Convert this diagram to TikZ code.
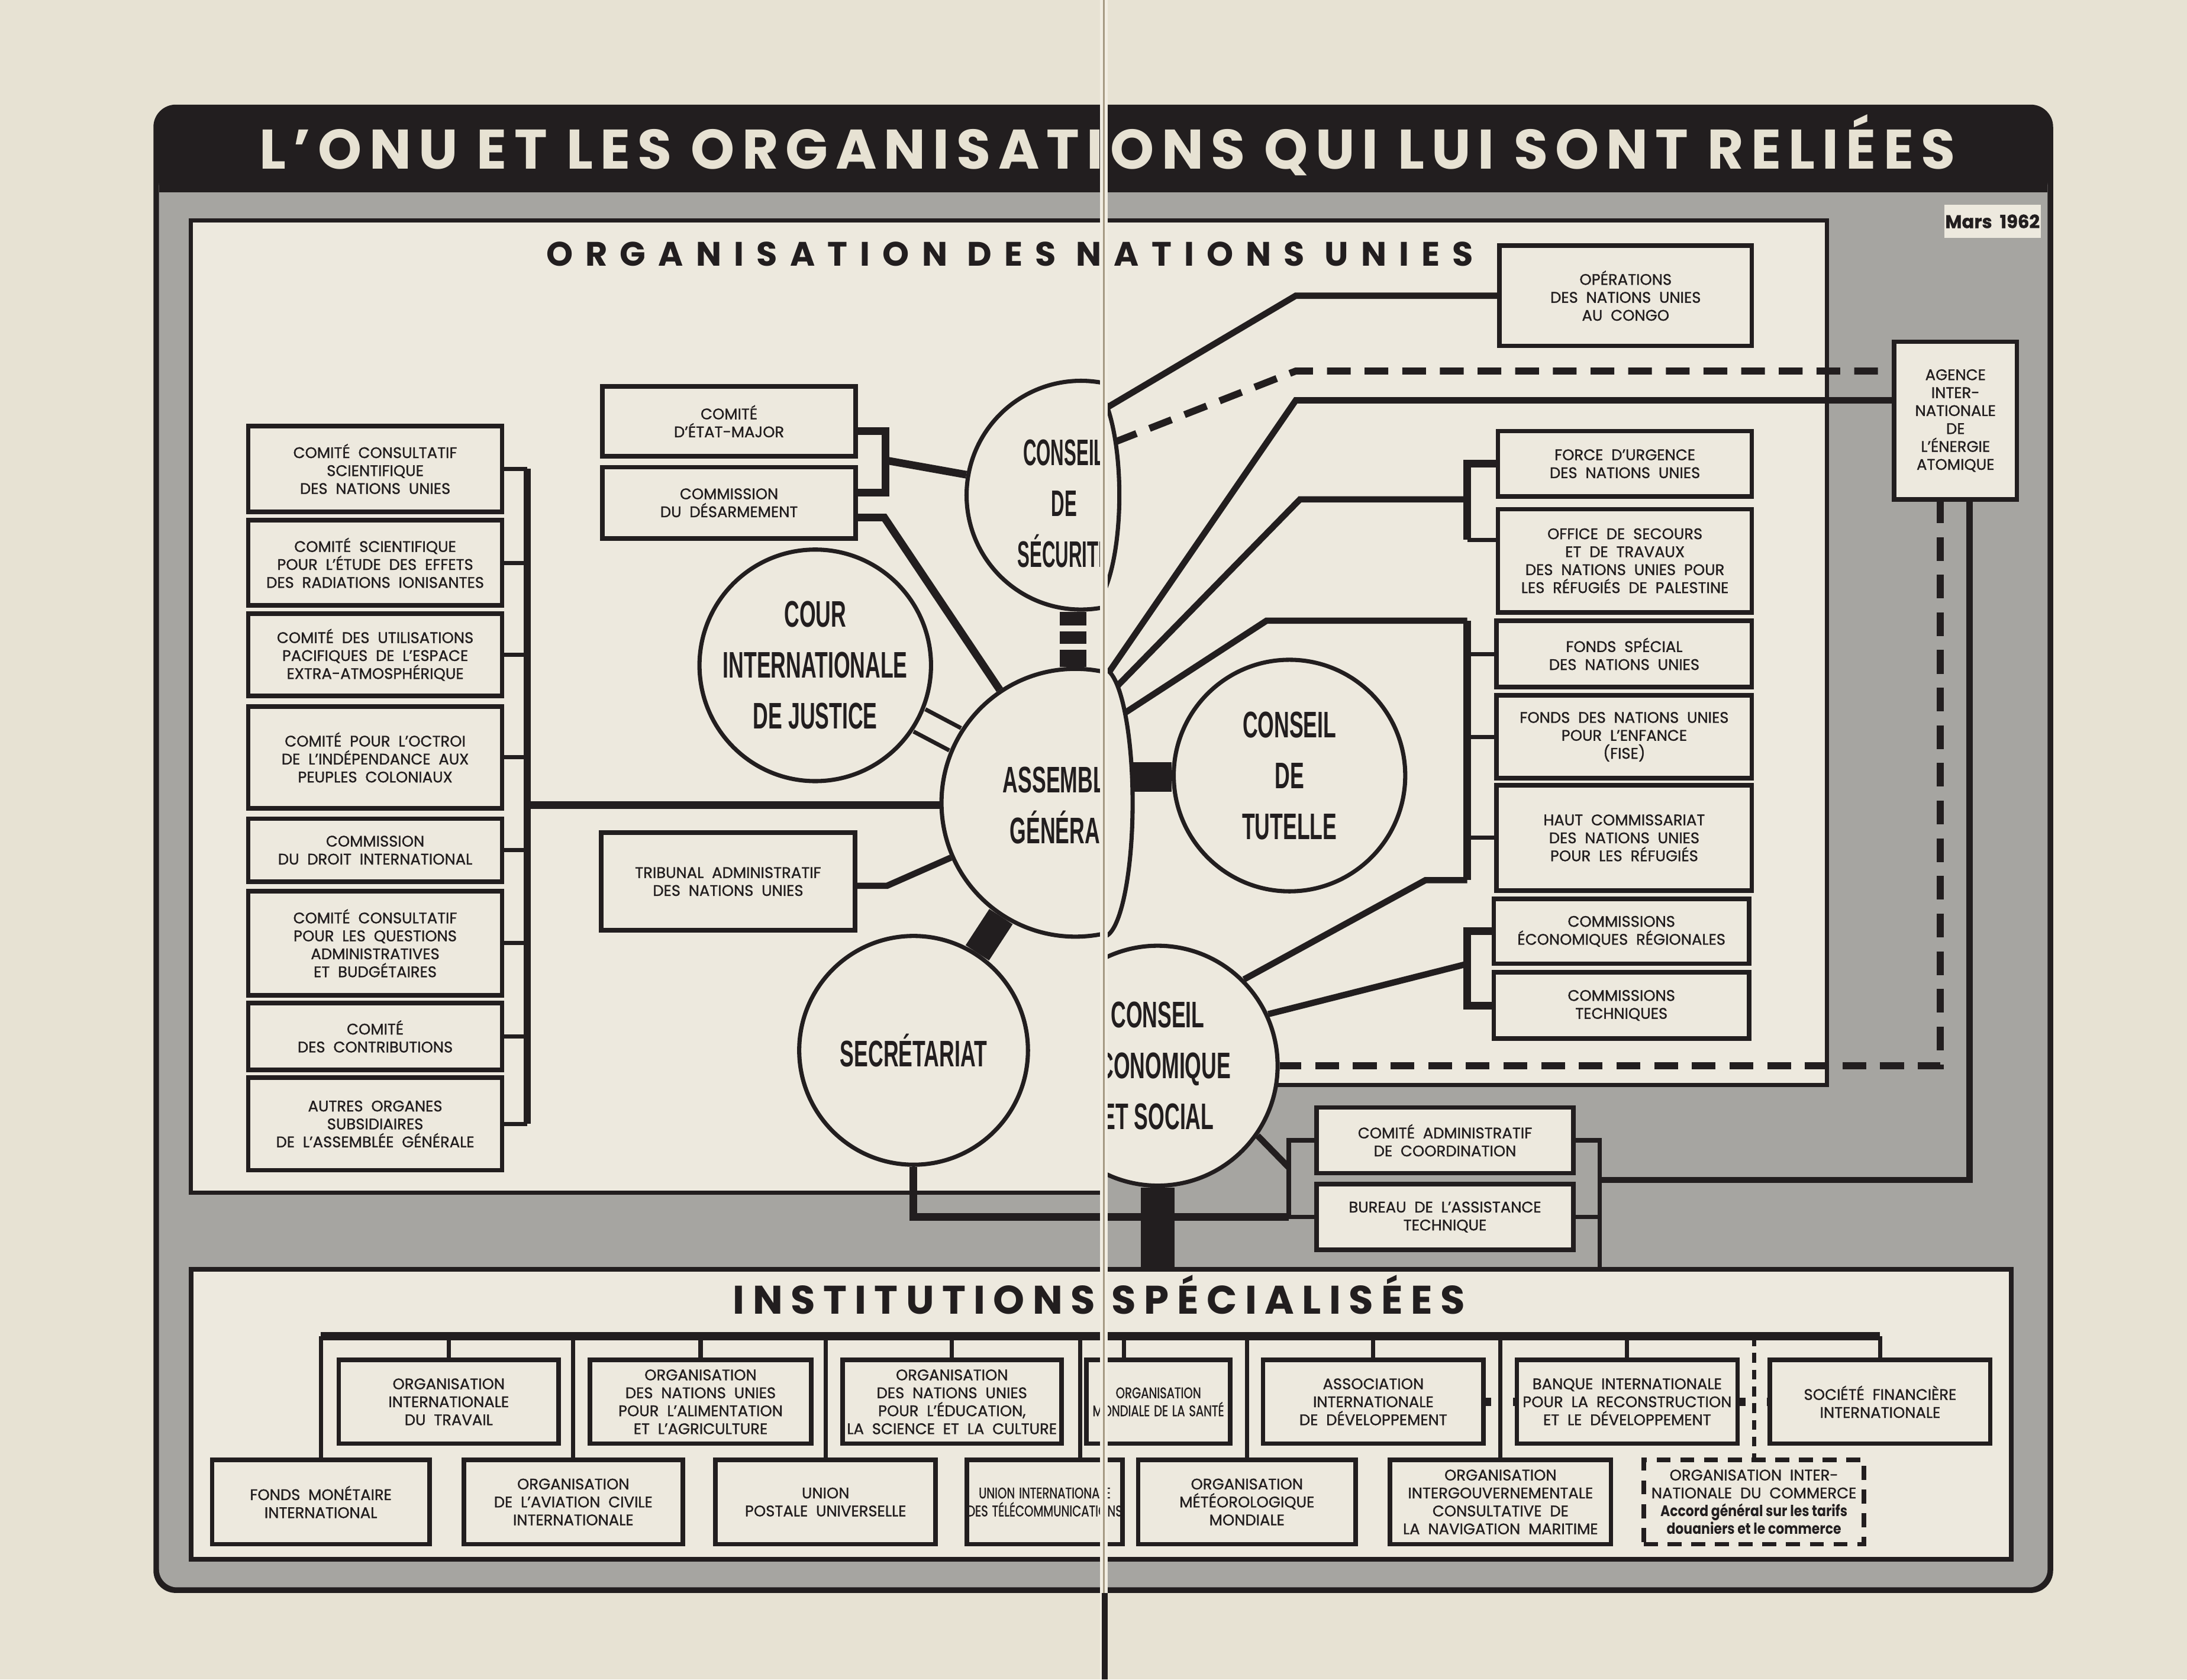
\documentclass[tikz,border=0pt]{standalone}
\usepackage{fontspec}
\setmainfont{Poppins}[WordSpace=2.0,FakeBold=1.2]
\newfontfamily\circfont{Liberation Sans}[FakeStretch=0.57]
\newfontfamily\circnarrow{Liberation Sans}[FakeStretch=0.5]
\newfontfamily\headfont{Poppins}[LetterSpace=37]
\newfontfamily\instfont{Poppins}[LetterSpace=20]
\newfontfamily\titlefont{Poppins}[LetterSpace=13]
\newfontfamily\narrowfont{Poppins}[FakeStretch=0.76,WordSpace=1.3,FakeBold=1.2]
\newfontfamily\accfont{Poppins}[FakeStretch=0.85]
\usetikzlibrary{shapes}

\newlength\dunit
\setlength\dunit{0.05cm}

\definecolor{paper}{HTML}{E7E2D3}
\definecolor{panel}{HTML}{EDE9DE}
\definecolor{greyarea}{HTML}{A6A5A1}
\definecolor{ink}{HTML}{221E1F}
\definecolor{gutter}{HTML}{F1EDE2}
\definecolor{gutline}{HTML}{A59A83}

\pgfdeclarelayer{bg}
\pgfdeclarelayer{lines}
\pgfdeclarelayer{top}
\pgfsetlayers{bg,lines,main,top}

\tikzset{
  box/.style={draw=ink, line width=3.2\dunit, fill=panel, align=center, inner sep=0pt,
    text=ink, font=\fontsize{15.6}{18.3}\selectfont},
  sz/.style 2 args={minimum width=#1\dunit, minimum height=#2\dunit},
  narrow/.style={font=\narrowfont\fontsize{15.6}{18.3}\selectfont},
  circ/.style={circle, draw=ink, line width=3\dunit, fill=panel, inner sep=0pt, align=center,
    text=ink, minimum size=#1\dunit, font=\circfont\bfseries\fontsize{37.7}{51.9}\selectfont},
  circtext/.style={align=center, inner sep=0pt, text=ink, font=#1\bfseries\fontsize{37.7}{51.9}\selectfont},
  link/.style={draw=ink, line width=3\dunit},
  heavy/.style={draw=ink, line width=5.5\dunit},
  fan/.style={draw=ink, line width=4.5\dunit},
  thickbar/.style={draw=ink, line width=#1\dunit},
  twin/.style={draw=ink, line width=3\dunit, double=panel, double distance=15\dunit},
  ladder/.style={draw=ink, line width=19\dunit,
    dash pattern=on 10\dunit off 4\dunit on 9\dunit off 4.5\dunit on 30\dunit off 1\dunit},
  dashlink/.style={draw=ink, line width=5\dunit, dash pattern=on 17\dunit off 10\dunit},
}

\begin{document}
\begin{tikzpicture}[x=0.05cm, y=-0.05cm]
\useasboundingbox (0,0) rectangle (1568,1204);

\begin{pgfonlayer}{bg}
\fill[paper] (0,0) rectangle (1568,1204);
% frame, title bar and grey ground
\fill[ink, rounded corners=16\dunit] (110,75) rectangle (1472,1142);
\fill[greyarea, rounded corners=13\dunit] (114,120) rectangle (1468,1138);
\fill[ink] (114,118) rectangle (1468,138);
% the two pages of the ONU panel
\fill[panel] (137,158) rectangle (792,855);
\draw[link] (792,158) -- (137,158) -- (137,855) -- (792,855);
\fill[panel] (794,158) rectangle (1310,778);
\draw[link] (794,158) -- (1310,158) -- (1310,778) -- (794,778);
% institutions
\filldraw[fill=panel, draw=ink, line width=3.5\dunit] (137,910) rectangle (1442,1118);
\end{pgfonlayer}

\node[anchor=base, text=paper, font=\titlefont\bfseries\fontsize{56.9}{60}\selectfont] (title) at (794,121)
  {L’ONU ET LES ORGANISATIONS QUI LUI SONT RELIÉES};
\node[fill=panel, inner sep=0pt, minimum width=69\dunit, minimum height=23.5\dunit, text=ink,
  font=\bfseries\fontsize{18.5}{20}\selectfont] (mars) at (1428.5,158.7) {Mars 1962};
\node[anchor=base, text=ink, font=\headfont\bfseries\fontsize{34.6}{40}\selectfont] (onu) at (724,190.5)
  {ORGANISATION DES NATIONS UNIES};
\node[anchor=base, text=ink, font=\instfont\bfseries\fontsize{40.7}{46}\selectfont] (ish) at (788,942)
  {INSTITUTIONS SPÉCIALISÉES};

% subsidiary bodies of the assembly
\node[box, sz={182}{61.5}] (c1) at (269,336.2) {COMITÉ CONSULTATIF\\SCIENTIFIQUE\\DES NATIONS UNIES};
\node[box, sz={182}{61}] (c2) at (269,403.5) {COMITÉ SCIENTIFIQUE\\POUR L’ÉTUDE DES EFFETS\\DES RADIATIONS IONISANTES};
\node[box, sz={182}{59}] (c3) at (269,469.5) {COMITÉ DES UTILISATIONS\\PACIFIQUES DE L’ESPACE\\EXTRA-ATMOSPHÉRIQUE};
\node[box, sz={182}{73}] (c4) at (269,543) {COMITÉ POUR L’OCTROI\\DE L’INDÉPENDANCE AUX\\PEUPLES COLONIAUX};
\node[box, sz={182}{45}] (c5) at (269,609.5) {COMMISSION\\DU DROIT INTERNATIONAL};
\node[box, sz={182}{74.5}] (c6) at (269,676.2) {COMITÉ CONSULTATIF\\POUR LES QUESTIONS\\ADMINISTRATIVES\\ET BUDGÉTAIRES};
\node[box, sz={182}{48}] (c7) at (269,743) {COMITÉ\\DES CONTRIBUTIONS};
\node[box, sz={182}{66.4}] (c8) at (269,805.8) {AUTRES ORGANES\\SUBSIDIAIRES\\DE L’ASSEMBLÉE GÉNÉRALE};

\node[box, sz={181.5}{50}] (em) at (522.7,302) {COMITÉ\\D’ÉTAT-MAJOR};
\node[box, sz={181.5}{51}] (des) at (522.7,360.5) {COMMISSION\\DU DÉSARMEMENT};
\node[box, sz={182}{70}] (trib) at (522,632) {TRIBUNAL ADMINISTRATIF\\DES NATIONS UNIES};

% right page
\node[box, sz={181}{72}] (oper) at (1165.5,212) {OPÉRATIONS\\DES NATIONS UNIES\\AU CONGO};
\node[box, sz={182}{47}] (force) at (1165,332.5) {FORCE D’URGENCE\\DES NATIONS UNIES};
\node[box, sz={182}{74}] (office) at (1165,402) {OFFICE DE SECOURS\\ET DE TRAVAUX\\DES NATIONS UNIES POUR\\LES RÉFUGIÉS DE PALESTINE};
\node[box, sz={183}{47.6}] (fspe) at (1164.5,468.8) {FONDS SPÉCIAL\\DES NATIONS UNIES};
\node[box, sz={183}{59.5}] (fise) at (1164.5,528.2) {FONDS DES NATIONS UNIES\\POUR L’ENFANCE\\(FISE)};
\node[box, sz={183}{75.5}] (hcr) at (1164.5,600.7) {HAUT COMMISSARIAT\\DES NATIONS UNIES\\POUR LES RÉFUGIÉS};
\node[box, sz={183}{46.5}] (cer) at (1162.5,667.7) {COMMISSIONS\\ÉCONOMIQUES RÉGIONALES};
\node[box, sz={183}{47.6}] (ctec) at (1162.5,720.8) {COMMISSIONS\\TECHNIQUES};
\node[box, sz={88}{113}] (aiea) at (1402,301.5) {AGENCE\\INTER-\\NATIONALE\\DE\\L’ÉNERGIE\\ATOMIQUE};
\node[box, sz={184}{47}] (acc) at (1036,817.5) {COMITÉ ADMINISTRATIF\\DE COORDINATION};
\node[box, sz={184}{47}] (bat) at (1036,872.5) {BUREAU DE L’ASSISTANCE\\TECHNIQUE};

% specialized agencies
\node[box, sz={157.5}{60}] (oit) at (321.7,1005) {ORGANISATION\\INTERNATIONALE\\DU TRAVAIL};
\node[box, sz={158.7}{60}] (fao) at (502.3,1005) {ORGANISATION\\DES NATIONS UNIES\\POUR L’ALIMENTATION\\ET L’AGRICULTURE};
\node[box, sz={157}{60}] (unesco) at (682.5,1005) {ORGANISATION\\DES NATIONS UNIES\\POUR L’ÉDUCATION,\\LA SCIENCE ET LA CULTURE};
\node[box, narrow, sz={103}{60}] (oms) at (830.5,1005) {ORGANISATION\\MONDIALE DE LA SANTÉ};
\node[box, sz={158}{60}] (aid) at (984.6,1005) {ASSOCIATION\\INTERNATIONALE\\DE DÉVELOPPEMENT};
\node[box, sz={158.2}{60}] (bird) at (1166.6,1005) {BANQUE INTERNATIONALE\\POUR LA RECONSTRUCTION\\ET LE DÉVELOPPEMENT};
\node[box, sz={158}{60}] (sfi) at (1348,1005) {SOCIÉTÉ FINANCIÈRE\\INTERNATIONALE};
\node[box, sz={156}{60.4}] (fmi) at (230,1076.8) {FONDS MONÉTAIRE\\INTERNATIONAL};
\node[box, sz={157}{60.4}] (oaci) at (411,1076.8) {ORGANISATION\\DE L’AVIATION CIVILE\\INTERNATIONALE};
\node[box, sz={157.8}{60.4}] (upu) at (591.9,1076.8) {UNION\\POSTALE UNIVERSELLE};
\node[box, narrow, sz={108}{60.4}] (uit) at (749,1076.8) {UNION INTERNATIONALE\\DES TÉLÉCOMMUNICATIONS};
\node[box, sz={156}{60.4}] (omm) at (894,1076.8) {ORGANISATION\\MÉTÉOROLOGIQUE\\MONDIALE};
\node[box, sz={158.4}{60.4}] (omci) at (1075.8,1076.8) {ORGANISATION\\INTERGOUVERNEMENTALE\\CONSULTATIVE DE\\LA NAVIGATION MARITIME};
\node[box, sz={157.9}{60.4}, dash pattern=on 10\dunit off 7\dunit] (oic) at (1257.5,1076.8)
  {ORGANISATION INTER-\\NATIONALE DU COMMERCE\\{\accfont\bfseries Accord général sur les tarifs}\\{\accfont\bfseries douaniers et le commerce}};

% principal organs
\node[circ=166] (cij) at (584.5,477) {COUR\\INTERNATIONALE\\DE JUSTICE};
\node[circ=164] (sec) at (655,753) {SECRÉTARIAT};
\node[circ=166] (ct) at (924.5,556) {CONSEIL\\DE\\TUTELLE};
\begin{scope}
\clip (0,0) rectangle (792,1204);
\node[circ=164] (cs) at (775,355) {};
\node[circtext=\circnarrow] (csT) at (763,361) {CONSEIL\\DE\\SÉCURITÉ};
\node[circ=192] (ag) at (771,575.5) {};
\node[circtext=\circfont] (agT) at (766,575) {ASSEMBLÉE\\GÉNÉRALE};
\end{scope}
\begin{scope}
\clip (794,0) rectangle (1568,1204);
\node[circ=172] (eco) at (830,764) {CONSEIL\\ÉCONOMIQUE\\ET SOCIAL};
\end{scope}
% what the fold leaves of the two circles on the right page
\begin{scope}
\clip (794,250) rectangle (820,460);
\filldraw[fill=panel, draw=ink, line width=3\dunit, shift={(554,0)}, xscale=0.29] (775,355) circle (82);
\end{scope}
\begin{scope}
\clip (794,470) rectangle (825,690);
\filldraw[fill=panel, draw=ink, line width=3\dunit, shift={(621.3,0)}, xscale=0.22] (771,575.5) circle (96);
\end{scope}

\begin{pgfonlayer}{lines}
% left bracket
\coordinate (lb) at (378,336.2);
\coordinate (lj) at (378,577);
\draw[link] (c1.east) -- (c1.east -| lb);
\draw[link] (c2.east) -- (c2.east -| lb);
\draw[link] (c3.east) -- (c3.east -| lb);
\draw[link] (c4.east) -- (c4.east -| lb);
\draw[link] (c5.east) -- (c5.east -| lb);
\draw[link] (c6.east) -- (c6.east -| lb);
\draw[link] (c7.east) -- (c7.east -| lb);
\draw[link] (c8.east) -- (c8.east -| lb);
\draw[heavy] (lb) -- (lb |- c8.east);
\draw[heavy] (lj) -- (lj -| ag.west);
% security council
\coordinate (mt) at (635,309);
\coordinate (mb) at (635,353);
\coordinate (mm) at (635,330);
\draw[heavy] (em.east |- mt) -- (mt) -- (mb) -- (des.east |- mb);
\draw[heavy] (mm) -- (cs);
\coordinate (dk) at (634,371);
\draw[heavy] (des.east |- dk) -- (dk) -- (ag);
\coordinate (tk) at (636,635);
\draw[fan] (trib.east |- tk) -- (tk) -- (ag);
\draw[twin] (cij) -- (ag);
\draw[thickbar=20] (ag) -- (sec);
\coordinate (lad) at (769.5,0);
\draw[ladder] (cs.south -| lad) -- (ag.north -| lad);
\coordinate (agD) at (803,557);
\draw[thickbar=21] (agD) -- (agD -| ct.west);
% right page fan
\coordinate (csA) at (794,292);
\coordinate (kA) at (929,212);
\draw[fan] (csA) -- (kA) -- (oper.west);
\coordinate (csB) at (799,317);
\coordinate (kB) at (929,266);
\draw[dashlink] (csB) -- (kB) -- (kB -| aiea.west);
\coordinate (agA) at (795,482);
\coordinate (kC) at (929,287);
\draw[fan] (agA) -- (kC) -- (kC -| aiea.west);
\coordinate (agB) at (796,497);
\coordinate (kD) at (932,358);
\coordinate (bA) at (1052,358);
\coordinate (bA2) at (1052,387);
\draw[fan] (agB) -- (kD) -- (bA);
\draw[heavy] (force.west) -| (bA2);
\draw[link] (bA2) -- (office.west |- bA2);
\coordinate (agC) at (802,514);
\coordinate (kE) at (908,445);
\coordinate (bB1) at (1052,445);
\coordinate (bB2) at (1052,631);
\coordinate (kF) at (1022,631);
\draw[fan] (agC) -- (kE) -- (bB1);
\draw[heavy] (bB1) -- (bB2);
\draw[fan] (bB2) -- (kF) -- (eco.45);
\draw[link] (fspe.west) -- (fspe.west -| bB1);
\draw[link] (fise.west) -- (fise.west -| bB1);
\draw[link] (hcr.west) -- (hcr.west -| bB1);
\coordinate (bC) at (1052,691);
\draw[heavy] (cer.west) -| (bC) |- (ctec.west);
\draw[fan] (eco.25) -- (bC);
% atomic energy agency
\coordinate (aS) at (1412,358);
\coordinate (aD) at (1391,358);
\coordinate (kH) at (1147,846);
\draw[fan] (kH) -| (aS);
\draw[dashlink] (aD) |- (eco.east);
% coordination
\coordinate (brL) at (924,872.5);
\coordinate (brR) at (1147,910);
\coordinate (kG) at (924,837);
\draw[link] (acc.west) -| (brL) -- (bat.west);
\draw[heavy] (sec.south) |- (brL);
\draw[fan] (eco.-35) -- (kG);
\draw[link] (acc.east) -| (brR);
\draw[link] (bat.east) -- (bat.east -| brR);
\coordinate (inst) at (0,910);
\draw[thickbar=24] (eco.south) -- (eco.south |- inst);
% bus of the specialized agencies
\coordinate (bus) at (230,958);
\coordinate (kU) at (774.5,0);
\coordinate (kO) at (806,0);
\draw[thickbar=6] (bus) -- (bus -| sfi.north);
\draw[link] (bus -| fmi.north) -- (fmi.north);
\draw[link] (bus -| oaci.north) -- (oaci.north);
\draw[link] (bus -| upu.north) -- (upu.north);
\draw[link] (bus -| kU) -- (uit.north -| kU);
\draw[link] (bus -| omm.north) -- (omm.north);
\draw[link] (bus -| omci.north) -- (omci.north);
\draw[link, dash pattern=on 7\dunit off 5\dunit] (bus -| oic.north) -- (oic.north);
\draw[link] (bus -| oit.north) -- (oit.north);
\draw[link] (bus -| fao.north) -- (fao.north);
\draw[link] (bus -| unesco.north) -- (unesco.north);
\draw[link] (bus -| kO) -- (oms.north -| kO);
\draw[link] (bus -| aid.north) -- (aid.north);
\draw[link] (bus -| bird.north) -- (bird.north);
\draw[link] (bus -| sfi.north) -- (sfi.north);
\draw[thickbar=6, dash pattern=on 4\dunit off 15.6\dunit] (aid.east) -- (bird.west);
\draw[thickbar=6, dash pattern=on 4\dunit off 15.3\dunit] (bird.east) -- (sfi.west);
\end{pgfonlayer}

% the fold of the book
\begin{pgfonlayer}{top}
\fill[gutter] (788.5,0) rectangle (794,1204);
\draw[gutline, line width=1.2\dunit] (791.5,0) -- (791.5,1204);
\draw[ink, line width=4\dunit] (792,1142) -- (792,1204);
\end{pgfonlayer}
\end{tikzpicture}
\end{document}
